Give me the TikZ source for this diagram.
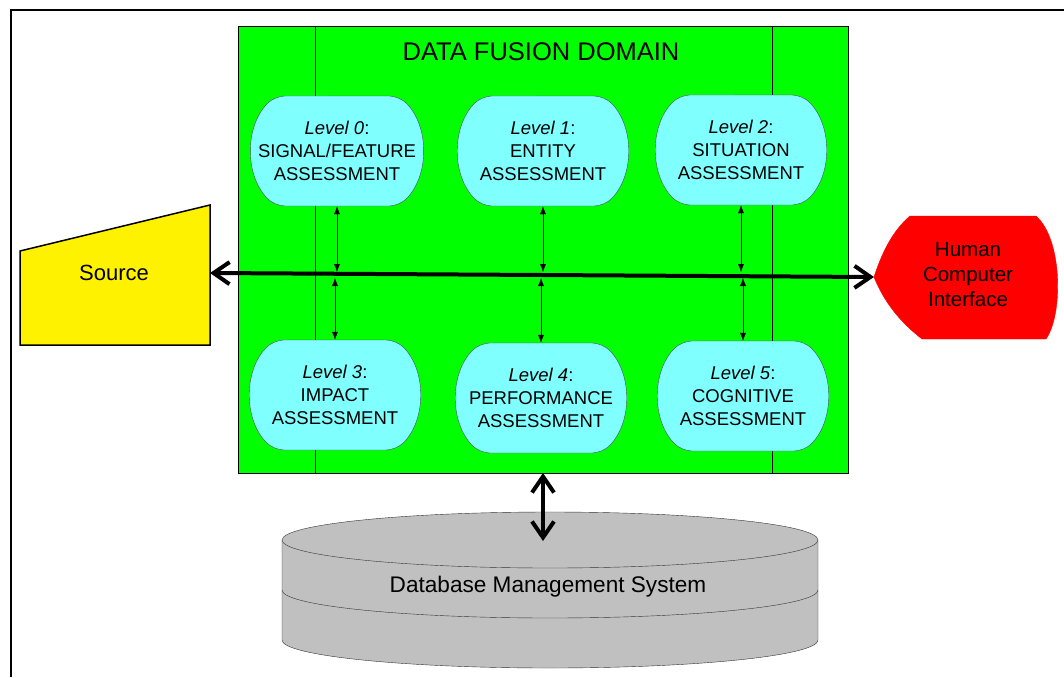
\documentclass[tikz,border=0pt]{standalone}
\usepackage{fontspec}
\setmainfont{Liberation Sans}
\usetikzlibrary{shapes.misc,arrows.meta}

\definecolor{fusiongreen}{RGB}{0,255,0}
\definecolor{levelcyan}{RGB}{128,255,255}
\definecolor{dbgray}{RGB}{192,192,192}

\begin{document}
\begin{tikzpicture}[x=1pt, y=-1pt,
    level/.style={rounded rectangle, rounded rectangle arc length=90, rounded corners=10pt,
      draw=black!70, thin, fill=levelcyan, minimum width=168pt, minimum height=110pt,
      inner sep=0pt, align=center, font=\fontsize{18.5}{23}\selectfont},
    link/.style={{Latex[length=8pt,width=6pt]}-{Latex[length=8pt,width=6pt]}, thin},
    busline/.style={line width=4pt, {Straight Barb[length=16pt,width=22pt]}-{Straight Barb[length=16pt,width=22pt]}}]
    \useasboundingbox (0,0) rectangle (1064,677);
    \draw[line width=2pt] (11,677) -- (11,10) -- (1064,10);
    % fusion domain
    \filldraw[fill=fusiongreen, draw=black, thin] (238,26) rectangle (848,473);
    \draw[thin] (315,26) -- (315,473);
    \draw[thin] (772,26) -- (772,473);
    \node (fusion) at (541,52) {\fontsize{25.5}{30}\selectfont DATA FUSION DOMAIN};
    \coordinate (fusionport) at (543,473);
    % levels
    \node[level] (lvl0) at (337,151) {\textit{Level 0}:\\SIGNAL/FEATURE\\ASSESSMENT};
    \node[level] (lvl1) at (543,151) {\textit{Level 1}:\\ENTITY\\ASSESSMENT};
    \node[level] (lvl2) at (741,150) {\textit{Level 2}:\\SITUATION\\ASSESSMENT};
    \node[level] (lvl3) at (335,395) {\textit{Level 3}:\\IMPACT\\ASSESSMENT};
    \node[level] (lvl4) at (541,398) {\textit{Level 4}:\\PERFORMANCE\\ASSESSMENT};
    \node[level] (lvl5) at (743,396) {\textit{Level 5}:\\COGNITIVE\\ASSESSMENT};
    % source
    \filldraw[fill=yellow, line width=1.5pt] (20,251) -- (210,205) -- (210,345) -- (20,345) -- cycle;
    \node (src) at (114,273) {\fontsize{22}{26}\selectfont Source};
    \coordinate (srcport) at (210,273);
    % human computer interface
    \filldraw[fill=red, draw=red] (874,277) .. controls (884,246) and (896,228) .. (910,216)
      -- (1036,216) .. controls (1063,240) and (1063,315) .. (1046,339)
      -- (922,339) .. controls (900,322) and (884,302) .. (874,277) -- cycle;
    \node[align=center, font=\fontsize{20.5}{25}\selectfont] (hci) at (968,275) {Human\\Computer\\Interface};
    \coordinate (hciport) at (874,277);
    % database
    \filldraw[fill=dbgray, draw=black!80, thin] (282,540) -- (282,640)
      arc[start angle=180, end angle=0, x radius=268, y radius=28] -- (818,540) -- cycle;
    \filldraw[fill=dbgray, draw=black!80, thin] (550,540) ellipse[x radius=268, y radius=28];
    \draw[black!80, thin] (282,590) arc[start angle=180, end angle=0, x radius=268, y radius=28];
    \node (dbms) at (548,587) {\fontsize{22.6}{27}\selectfont Database Management System};
    \coordinate (dbport) at (543,541);
    % connectors
    \coordinate (bus) at (0,275);
    \draw[busline] (srcport) -- (hciport);
    \draw[busline] (fusionport) -- (dbport);
    \foreach \n in {0,1,2}
      \draw[link, shorten >=3pt] (lvl\n.south) -- (lvl\n.south |- bus);
    \foreach \n in {3,4,5}
      \draw[link, shorten <=3pt] (lvl\n.north |- bus) -- (lvl\n.north);
\end{tikzpicture}
\end{document}
